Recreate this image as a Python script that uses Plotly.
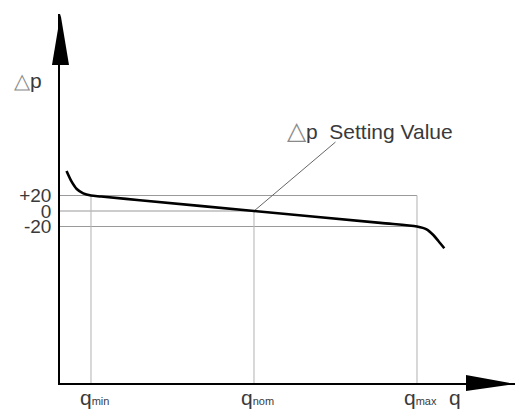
import plotly.graph_objects as go

# ---- data ----
q_curve = [8.0, 10.5, 13.0, 16.2, 20.0, 25.0, 44.0, 100.0, 162.0, 180.0, 184.7, 188.0, 190.5, 193.4]
dp_curve = [51.6, 37.8, 28.4, 22.8, 20.0, 18.7, 14.0, 0.0, -15.3, -20.0, -23.6, -31.0, -38.7, -48.1]

q_marks = [20.0, 100.0, 180.0]          # q_min, q_nom, q_max
q_subscripts = ["min", "nom", "max"]
dp_levels = [20.0, 0.0, -20.0]
dp_labels = ["+20", "0", "-20"]
setting_leader_end = (140.0, 89.0)

X_RANGE = [4.79, 228.1]
Y_RANGE = [-221.9, 254.2]

TEXT = "#3a3a3a"
GRID_H = "#9a9a9a"
GRID_V = "#b8b8b8"
TRI = "#8a8a8a"
FONT = "Liberation Sans, Arial, sans-serif"

q_ticktext = ["q<span style='font-size:11px'>%s</span>" % s for s in q_subscripts]

fig = go.Figure()

x_left = X_RANGE[0]
y_bottom = Y_RANGE[0]
q_min, q_nom, q_max = q_marks
dp_hi, dp_0, dp_lo = dp_levels

# horizontal reference lines
for x_end, lvl in [(q_max, dp_hi), (q_nom, dp_0), (q_max, dp_lo)]:
    fig.add_trace(go.Scatter(x=[x_left, x_end], y=[lvl, lvl], mode="lines",
                             line=dict(color=GRID_H, width=1.1), hoverinfo="skip"))
# vertical reference lines
for xq, lvl in [(q_min, dp_hi), (q_nom, dp_0), (q_max, dp_hi)]:
    fig.add_trace(go.Scatter(x=[xq, xq], y=[lvl, y_bottom], mode="lines",
                             line=dict(color=GRID_V, width=1.1), hoverinfo="skip"))
# leader line
fig.add_trace(go.Scatter(x=[q_nom, setting_leader_end[0]], y=[dp_0, setting_leader_end[1]],
                         mode="lines", line=dict(color="#666666", width=1), hoverinfo="skip"))
# characteristic curve
fig.add_trace(go.Scatter(x=q_curve, y=dp_curve, mode="lines",
                         line=dict(color="black", width=2.6, shape="spline", smoothing=0.8),
                         hoverinfo="skip"))

# arrow heads (paper coordinates)
fig.add_shape(type="path", xref="paper", yref="paper",
              path="M -0.0176,0.8618 L 0.0198,0.8618 L 0.0011,1.0 Z",
              fillcolor="black", line=dict(width=0))
fig.add_shape(type="path", xref="paper", yref="paper",
              path="M 0.8923,0.0217 L 0.8923,-0.0217 L 1.0,-0.0027 Z",
              fillcolor="black", line=dict(width=0))

# q tick labels (placed as annotations on the q axis)
for xq, txt in zip(q_marks, q_ticktext):
    fig.add_annotation(x=xq, y=0, xref="x", yref="paper", xanchor="center", yanchor="top",
                       xshift=4, yshift=-1, showarrow=False, text=txt,
                       font=dict(family=FONT, size=21, color=TEXT))

# annotations
fig.add_annotation(x=115.2, y=104.5, xref="x", yref="y", xanchor="left", yanchor="middle",
                   showarrow=False,
                   text="<span style='color:%s;font-size:25px'>△</span>p  Setting Value" % TRI,
                   font=dict(family=FONT, size=21, color=TEXT))
fig.add_annotation(x=0, y=0.82, xref="paper", yref="paper", xanchor="right", yanchor="middle",
                   xshift=-16, showarrow=False,
                   text="<span style='color:%s'>△</span>p" % TRI,
                   font=dict(family=FONT, size=21, color=TEXT))
fig.add_annotation(x=0.8505, y=0, xref="paper", yref="paper", xanchor="left", yanchor="top",
                   yshift=-1, showarrow=False, text="q",
                   font=dict(family=FONT, size=21, color=TEXT))

fig.update_layout(
    width=515, height=409,
    margin=dict(l=60, r=0, t=14, b=26, autoexpand=False),
    paper_bgcolor="white", plot_bgcolor="white",
    showlegend=False,
    xaxis=dict(range=X_RANGE, showgrid=False, zeroline=False, showline=True, automargin=False,
               linecolor="black", linewidth=1.6, showticklabels=False, ticks=""),
    yaxis=dict(range=Y_RANGE, showgrid=False, zeroline=False, showline=True, automargin=False,
               linecolor="black", linewidth=1.6, tickvals=dp_levels, ticktext=dp_labels,
               ticks="", ticklabelstandoff=3,
               tickfont=dict(family=FONT, size=19, color=TEXT)),
)

fig.write_html("out.html", config={"displayModeBar": False},
               post_script="document.body.style.margin='0';document.body.style.overflow='hidden';")
